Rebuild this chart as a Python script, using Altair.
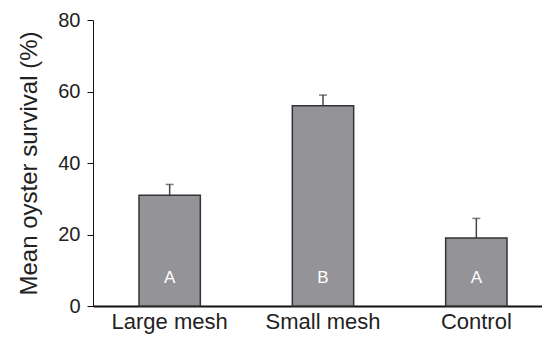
import altair as alt
import pandas as pd

treatments = ["Large mesh", "Small mesh", "Control"]
survival = [31, 56, 19]
se = [3, 3, 5.5]
letters = ["A", "B", "A"]

df = pd.DataFrame({
    "treatment": treatments,
    "survival": survival,
    "upper": [s + e for s, e in zip(survival, se)],
    "letter": letters,
})

FONT = "Liberation Sans"
xs = alt.Scale(paddingInner=0.6, paddingOuter=0.3, range=[0, 460])

x = alt.X("treatment:N", sort=treatments, title=None, scale=xs,
          axis=alt.Axis(labelAngle=0, labelAlign="center", ticks=False,
                        labelPadding=15, labelBaseline="middle",
                        labelFontSize=22, labelFont=FONT, labelColor="#222",
                        domainColor="#111", domainWidth=2))
y = alt.Y("survival:Q", title="Mean oyster survival (%)",
          scale=alt.Scale(domain=[0, 80]),
          axis=alt.Axis(values=[0, 20, 40, 60, 80], grid=False, tickSize=6,
                        tickColor="#111", domainColor="#111", labelPadding=7,
                        labelFontSize=20, labelFont=FONT, labelColor="#222",
                        titleFont=FONT, titleFontSize=24, titleFontWeight="normal",
                        titleColor="#222", titlePadding=16))

base = alt.Chart(df)
xe = alt.X("treatment:N", sort=treatments, scale=xs)

err = base.mark_rule(color="#444", strokeWidth=1.5).encode(
    x=xe, y="survival:Q", y2="upper:Q")
cap = base.mark_tick(color="#444", thickness=1.5, size=8, orient="horizontal").encode(
    x=xe, y="upper:Q")
bars = base.mark_bar(color="#949398", stroke="#333", strokeWidth=1.5).encode(x=x, y=y)
text = base.mark_text(color="white", fontSize=17, font=FONT, dy=-28).encode(
    x=xe, y=alt.datum(0), text="letter:N")

chart = alt.layer(err, cap, bars, text).properties(
    width=449, height=286,
    autosize=alt.AutoSizeParams(type="none"),
    padding={"left": 85, "top": 12, "right": 0, "bottom": 28},
).configure_view(stroke=None)

chart.save("out.html", embed_options={"renderer": "svg", "actions": False})
